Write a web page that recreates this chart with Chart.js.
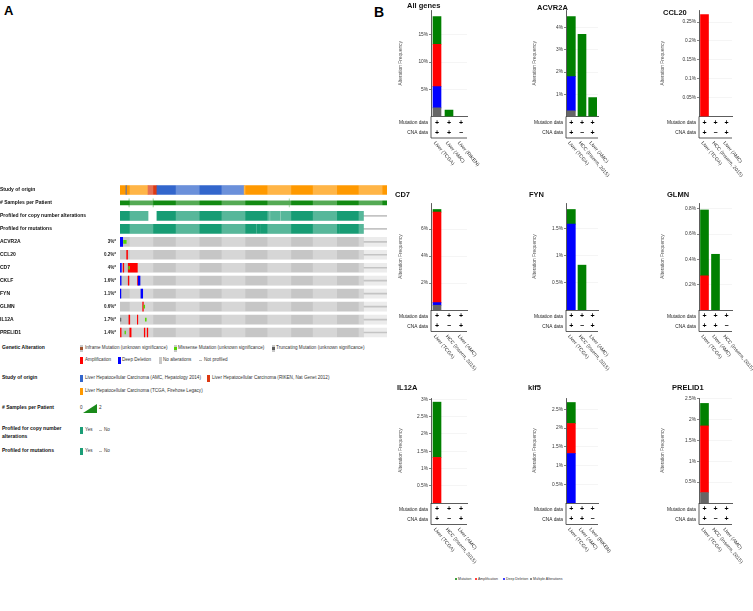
<!DOCTYPE html>
<html>
<head>
<meta charset="utf-8">
<script src="https://cdn.jsdelivr.net/npm/chart.js@4.4.0/dist/chart.umd.min.js"></script>
<style>
html,body{margin:0;padding:0;background:#fff;}
body{width:753px;height:611px;position:relative;overflow:hidden;font-family:"Liberation Sans",Arial,sans-serif;}
.t{position:absolute;white-space:nowrap;line-height:1;}
.lg{font-size:4.6px;color:#333;}
.hd{font-size:5px;font-weight:bold;color:#111;}
.ttl{font-size:7.5px;font-weight:bold;color:#111;}
.sw{position:absolute;}
canvas{position:absolute;}
</style>
</head>
<body>
<div class="t" style="left:4px;top:4px;font-size:13px;font-weight:bold;">A</div>
<div class="t" style="left:374px;top:5px;font-size:14px;font-weight:bold;">B</div>

<canvas id="onco" width="392" height="162" style="left:0;top:180px"></canvas>

<!-- legend of panel A -->
<div class="t hd" style="left:2px;top:345px">Genetic Alteration</div>
<div class="sw" style="left:80px;top:345px;width:3px;height:7px;background:#c8c8c8"></div>
<div class="sw" style="left:80px;top:347px;width:3px;height:3px;background:#a0522d"></div>
<div class="t lg" style="left:85px;top:346px">Inframe Mutation (unknown significance)</div>
<div class="sw" style="left:174px;top:345px;width:3px;height:7px;background:#c8c8c8"></div>
<div class="sw" style="left:174px;top:347px;width:3px;height:3px;background:#53d400"></div>
<div class="t lg" style="left:178px;top:346px">Missense Mutation (unknown significance)</div>
<div class="sw" style="left:272px;top:345px;width:3px;height:7px;background:#c8c8c8"></div>
<div class="sw" style="left:272px;top:347px;width:3px;height:3px;background:#5c5c5c"></div>
<div class="t lg" style="left:276px;top:346px">Truncating Mutation (unknown significance)</div>

<div class="sw" style="left:80px;top:357px;width:3px;height:7px;background:#ff0000"></div>
<div class="t lg" style="left:85px;top:358px">Amplification</div>
<div class="sw" style="left:118px;top:357px;width:3px;height:7px;background:#0000ff"></div>
<div class="t lg" style="left:122px;top:358px">Deep Deletion</div>
<div class="sw" style="left:159px;top:357px;width:3px;height:7px;background:#c8c8c8"></div>
<div class="t lg" style="left:163px;top:358px">No alterations</div>
<div class="sw" style="left:199px;top:360px;width:3px;height:1px;background:#bbb"></div>
<div class="t lg" style="left:204px;top:358px">Not profiled</div>

<div class="t hd" style="left:2px;top:375px">Study of origin</div>
<div class="sw" style="left:80px;top:375px;width:3px;height:7px;background:#3366cc"></div>
<div class="t lg" style="left:85px;top:376px">Liver Hepatocellular Carcinoma (AMC, Hepatology 2014)</div>
<div class="sw" style="left:207px;top:375px;width:3px;height:7px;background:#dc3912"></div>
<div class="t lg" style="left:212px;top:376px">Liver Hepatocellular Carcinoma (RIKEN, Nat Genet 2012)</div>
<div class="sw" style="left:80px;top:388px;width:3px;height:7px;background:#ff9900"></div>
<div class="t lg" style="left:85px;top:389px">Liver Hepatocellular Carcinoma (TCGA, Firehose Legacy)</div>

<div class="t hd" style="left:2px;top:405px"># Samples per Patient</div>
<div class="t lg" style="left:80px;top:406px">0</div>
<div class="sw" style="left:83px;top:404px;width:14px;height:9px;background:#1a8a1a;clip-path:polygon(0 100%,100% 0,100% 100%)"></div>
<div class="t lg" style="left:99px;top:406px">2</div>

<div class="t hd" style="left:2px;top:425px;line-height:1.5">Profiled for copy number<br>alterations</div>
<div class="sw" style="left:80px;top:427px;width:3px;height:7px;background:#1b9e77"></div>
<div class="t lg" style="left:85px;top:428px">Yes</div>
<div class="sw" style="left:99px;top:430px;width:3px;height:1px;background:#bbb"></div>
<div class="t lg" style="left:104px;top:428px">No</div>

<div class="t hd" style="left:2px;top:448px">Profiled for mutations</div>
<div class="sw" style="left:80px;top:448px;width:3px;height:7px;background:#1b9e77"></div>
<div class="t lg" style="left:85px;top:449px">Yes</div>
<div class="sw" style="left:99px;top:451px;width:3px;height:1px;background:#bbb"></div>
<div class="t lg" style="left:104px;top:449px">No</div>

<!-- legend of panel B -->
<div class="sw" style="left:455px;top:578px;width:2px;height:2px;border-radius:1px;background:#008000"></div>
<div class="t" style="left:458px;top:577.5px;font-size:3.5px;color:#333">Mutation</div>
<div class="sw" style="left:475px;top:578px;width:2px;height:2px;border-radius:1px;background:#ff0000"></div>
<div class="t" style="left:478px;top:577.5px;font-size:3.5px;color:#333">Amplification</div>
<div class="sw" style="left:503px;top:578px;width:2px;height:2px;border-radius:1px;background:#0000ff"></div>
<div class="t" style="left:506px;top:577.5px;font-size:3.5px;color:#333">Deep Deletion</div>
<div class="sw" style="left:530px;top:578px;width:2px;height:2px;border-radius:1px;background:#666"></div>
<div class="t" style="left:533px;top:577.5px;font-size:3.5px;color:#333">Multiple Alterations</div>

<script>
// ---------- panel A : oncoprint ----------
const trackLabels = ['Study of origin', '# Samples per Patient', 'Profiled for copy number alterations', 'Profiled for mutations'];
const geneRows = ['ACVR2A', 'CCL20', 'CD7', 'CKLF', 'FYN', 'GLMN', 'IL12A', 'PRELID1'];
const genePct = ['3%*', '0.2%*', '4%*', '1.6%*', '1.1%*', '0.6%*', '1.7%*', '1.4%*'];
const sampleCount = 600;    // columns in the oncoprint (approx.)
const profiledCount = 547;  // columns profiled in the gene rows
const studySegments = [[0, 13.5, 'TCGA'], [13.5, 15.5, 'AMC'], [15.5, 63, 'TCGA'], [63, 83, 'RIKEN'], [83, 279, 'AMC'], [279, 600, 'TCGA']];
const multiSampleCols = [20, 74, 380];
const cnaSegments = [[0, 63], [83, 336], [338, 359], [361, 547]];
const mutSegments = [[0, 306.5], [308, 314], [315.5, 491.5], [493, 547]];
const alterations = [
  ['ACVR2A', 0, 6, 'del'], ['ACVR2A', 8, 14, 'missense'],
  ['CCL20', 15, 17, 'amp'],
  ['CD7', 1, 3, 'del'], ['CD7', 7, 8.5, 'amp'], ['CD7', 18.5, 39, 'amp'], ['CD7', 19.5, 21.5, 'missense'],
  ['CKLF', 1, 2.5, 'del'], ['CKLF', 18.5, 20, 'amp'], ['CKLF', 39.5, 41, 'amp'], ['CKLF', 41, 45, 'del'],
  ['FYN', 0.5, 2, 'del'], ['FYN', 47, 51, 'del'],
  ['GLMN', 51, 52.5, 'amp'], ['GLMN', 53.5, 55.5, 'missense'],
  ['IL12A', 1, 2, 'truncating'], ['IL12A', 20, 22, 'amp'], ['IL12A', 39, 40, 'amp'], ['IL12A', 57, 59, 'missense'],
  ['PRELID1', 1, 2.5, 'amp'], ['PRELID1', 11, 12.5, 'missense'], ['PRELID1', 22, 25, 'amp'], ['PRELID1', 54.5, 56, 'amp'], ['PRELID1', 61, 62.5, 'amp']
];

// ---------- panel B : alteration frequency per study ----------
const panelTitles = ['All genes', 'ACVR2A', 'CCL20', 'CD7', 'FYN', 'GLMN', 'IL12A', 'klf5', 'PRELID1'];
const TC = 'Liver (TCGA)', AM = 'Liver (AMC)', RK = 'Liver (RIKEN)', IN = 'HCC (Inserm, 2015)';
const studyCats = [[TC, AM, RK], [TC, IN, AM], [TC, IN, AM], [TC, IN, AM], [TC, IN, AM], [TC, AM, IN], [TC, IN, AM], [TC, AM, RK], [TC, IN, AM]];
const multipleAlt = [[1.6, 0, 0], [0.25, 0, 0], [0, 0, 0], [0.35, 0, 0], [0, 0, 0], [0, 0, 0], [0, 0, 0], [0, 0, 0], [0.25, 0, 0]];
const deepDeletion = [[3.9, 0, 0], [1.55, 0, 0], [0, 0, 0], [0.2, 0, 0], [1.59, 0, 0], [0, 0, 0], [0, 0, 0], [1.32, 0, 0], [0, 0, 0]];
const amplification = [[7.8, 0, 0], [0, 0, 0], [0.27, 0, 0], [6.7, 0, 0], [0, 0, 0], [0.27, 0, 0], [1.32, 0, 0], [0.8, 0, 0], [1.6, 0, 0]];
const mutationFreq = [[5.1, 1.2, 0], [2.7, 3.7, 0.85], [0, 0, 0], [0.2, 0, 0], [0.27, 0.83, 0], [0.52, 0.44, 0], [1.6, 0, 0], [0.56, 0, 0], [0.54, 0, 0]];
const mutProfiled = [[1, 1, 1], [1, 1, 1], [1, 1, 1], [1, 1, 1], [1, 1, 1], [1, 1, 1], [1, 1, 1], [1, 1, 1], [1, 1, 1]];
const cnaProfiled = [[1, 1, 0], [1, 0, 1], [1, 0, 1], [1, 0, 1], [1, 0, 1], [1, 1, 0], [1, 0, 1], [1, 1, 0], [1, 0, 1]];
const yMax = [19.6, 4.8, 0.282, 7.93, 1.98, 0.845, 3.04, 2.8, 2.52];
const yStep = [5, 1, 0.05, 2, 0.5, 0.2, 0.5, 0.5, 0.5];

const FONT = '"Liberation Sans", Arial, sans-serif';
Chart.defaults.font.family = FONT;

// ---------- oncoprint ----------
const studyColors = {TCGA: '#ff9900', AMC: '#3366cc', RIKEN: '#dc3912'};
const altColors = {amp: '#ff0000', del: '#0000ff', missense: '#53d400', truncating: '#5c5c5c', inframe: '#a0522d'};
const lightBands = [[22.5, 74], [126, 178], [229, 281], [332, 384], [434, 487], [537, 589]];
const rowLabels = trackLabels.concat(geneRows);

function seg(row, a, b) { return {x: [a, b], y: row}; }

const overlay = [];
rowLabels.forEach(function(r, i) {
  const lim = i < 2 ? sampleCount : profiledCount;
  lightBands.forEach(function(b) {
    if (b[0] < lim) overlay.push(seg(r, b[0], Math.min(b[1], lim)));
  });
});
const cnaAlts = alterations.filter(a => a[3] == 'amp' || a[3] == 'del');
const mutAlts = alterations.filter(a => a[3] != 'amp' && a[3] != 'del');

const oncoDatasets = [
  {data: geneRows.map(g => seg(g, profiledCount, sampleCount)), backgroundColor: '#ececec', barThickness: 9, order: 20},
  {data: rowLabels.slice(2).map(g => seg(g, profiledCount, sampleCount)), backgroundColor: '#c4c4c4', barThickness: 1, order: 19},
  {data: geneRows.map(g => seg(g, 0, profiledCount)), backgroundColor: '#c6c6c6', barThickness: 9, order: 18},
  {data: studySegments.map(s => seg(trackLabels[0], s[0], s[1])), backgroundColor: studySegments.map(s => studyColors[s[2]]), barThickness: 9, order: 18},
  {data: multiSampleCols.map(v => seg(trackLabels[1], v, v + 1)), backgroundColor: '#8fd08f', barThickness: 8, order: 18},
  {data: [seg(trackLabels[1], 0, sampleCount)], backgroundColor: '#128a12', barThickness: 4, order: 17},
  {data: cnaSegments.map(s => seg(trackLabels[2], s[0], s[1])).concat(mutSegments.map(s => seg(trackLabels[3], s[0], s[1]))), backgroundColor: '#179c74', barThickness: 9, order: 18},
  {data: overlay, backgroundColor: 'rgba(255,255,255,0.28)', barThickness: 9, order: 10},
  {data: cnaAlts.map(a => seg(a[0], a[1], a[2])), backgroundColor: cnaAlts.map(a => altColors[a[3]]), barThickness: 9, order: 5},
  {data: mutAlts.map(a => seg(a[0], a[1], a[2])), backgroundColor: mutAlts.map(a => altColors[a[3]]), barThickness: 3, order: 1}
];

const pctPlugin = {
  id: 'pct',
  afterDraw(chart) {
    const ctx = chart.ctx, y = chart.scales.y;
    ctx.save();
    ctx.font = 'bold 4.5px ' + FONT;
    ctx.fillStyle = '#222';
    ctx.textAlign = 'right';
    ctx.textBaseline = 'middle';
    geneRows.forEach(function(g, i) {
      ctx.fillText(genePct[i], chart.chartArea.left - 4, y.getPixelForValue(trackLabels.length + i));
    });
    ctx.restore();
  }
};

new Chart(document.getElementById('onco'), {
  type: 'bar',
  data: {labels: rowLabels, datasets: oncoDatasets},
  options: {
    indexAxis: 'y',
    responsive: false,
    animation: false,
    events: [],
    layout: {padding: {top: 3.5, bottom: 3, left: 0, right: 5}},
    datasets: {bar: {grouped: false, borderWidth: 0}},
    plugins: {legend: {display: false}, tooltip: {enabled: false}},
    scales: {
      x: {type: 'linear', min: 0, max: sampleCount, display: false},
      y: {
        type: 'category',
        afterFit: s => { s.width = 120; },
        grid: {display: false},
        border: {display: false},
        ticks: {autoSkip: false, crossAlign: 'far', padding: 0, color: '#111', font: {size: 5, weight: 'bold'}}
      }
    }
  },
  plugins: [pctPlugin]
});

// ---------- frequency panels ----------
const colLeft = [398, 532, 660];
const colWidth = [100, 98, 93];
const axisX = [431, 566, 699];
const plotRight = [467, 598, 732];
const areaTop = [10, 203, 398];
const areaBottom = [124.5, 318, 511];
const titlePos = [[407, 1.5], [537, 3.5], [663, 8.5], [395, 191], [529, 191], [667, 191], [397, 384], [528, 384], [672, 384]];
const canvasH = 182;

function fmtPct(v) { return (+v.toFixed(3)) + '%'; }
function noZero(arr) { return arr.map(v => (v > 0 ? v : null)); }

const tablePlugin = {
  id: 'profileTable',
  afterDraw(chart) {
    const i = chart.options.plugins.profileTable.idx;
    const ctx = chart.ctx, a = chart.chartArea, x = chart.scales.x;
    const yb = a.bottom + 21.5;
    ctx.save();
    ctx.strokeStyle = '#333';
    ctx.lineWidth = 0.8;
    ctx.beginPath();
    ctx.moveTo(a.left, a.bottom);
    ctx.lineTo(a.left, yb);
    ctx.lineTo(a.right, yb);
    ctx.stroke();
    ctx.fillStyle = '#222';
    ctx.font = '4.8px ' + FONT;
    ctx.textAlign = 'right';
    ctx.textBaseline = 'middle';
    ctx.fillText('Mutation data', a.left - 3, a.bottom + 6.5);
    ctx.fillText('CNA data', a.left - 3, a.bottom + 16.5);
    studyCats[i].forEach(function(c, j) {
      const cx = x.getPixelForValue(j);
      ctx.fillStyle = '#000';
      ctx.font = 'bold 7px ' + FONT;
      ctx.textAlign = 'center';
      ctx.fillText(mutProfiled[i][j] ? '+' : '\u2212', cx, a.bottom + 6.5);
      ctx.fillText(cnaProfiled[i][j] ? '+' : '\u2212', cx, a.bottom + 16.5);
      ctx.save();
      ctx.translate(cx - 2.5, yb + 4);
      ctx.rotate(50 * Math.PI / 180);
      ctx.font = '5px ' + FONT;
      ctx.fillStyle = '#333';
      ctx.textAlign = 'left';
      ctx.fillText(c, 0, 0);
      ctx.restore();
    });
    ctx.restore();
  }
};

panelTitles.forEach(function(name, i) {
  const col = i % 3, row = Math.floor(i / 3);
  const left = colLeft[col], top = areaTop[row] - 10, W = colWidth[col];
  const cv = document.createElement('canvas');
  cv.width = W;
  cv.height = canvasH;
  cv.style.left = left + 'px';
  cv.style.top = top + 'px';
  document.body.appendChild(cv);

  const tt = document.createElement('div');
  tt.className = 't ttl';
  tt.style.left = titlePos[i][0] + 'px';
  tt.style.top = titlePos[i][1] + 'px';
  tt.textContent = name;
  document.body.appendChild(tt);

  const step = yStep[i];
  new Chart(cv, {
    type: 'bar',
    data: {
      labels: studyCats[i],
      datasets: [
        {label: 'Multiple Alterations', data: noZero(multipleAlt[i]), backgroundColor: '#666666'},
        {label: 'Deep Deletion', data: noZero(deepDeletion[i]), backgroundColor: '#0000ff'},
        {label: 'Amplification', data: noZero(amplification[i]), backgroundColor: '#ff0000'},
        {label: 'Mutation', data: noZero(mutationFreq[i]), backgroundColor: '#008000'}
      ]
    },
    options: {
      responsive: false,
      animation: false,
      events: [],
      layout: {padding: {top: 10, bottom: canvasH - 10 - (areaBottom[row] - areaTop[row]), left: 0, right: W - (plotRight[col] - left)}},
      datasets: {bar: {barThickness: 8, borderWidth: 0}},
      plugins: {legend: {display: false}, tooltip: {enabled: false}, profileTable: {idx: i}},
      scales: {
        x: {
          stacked: true,
          ticks: {display: false, padding: 0},
          grid: {display: false},
          border: {display: true, color: '#333', width: 0.8}
        },
        y: {
          stacked: true,
          min: 0,
          max: yMax[i],
          afterFit: s => { s.width = axisX[col] - left; },
          afterBuildTicks: s => {
            s.ticks = s.ticks.filter(t => t.value > 0 && Math.abs(t.value / step - Math.round(t.value / step)) < 1e-6);
          },
          ticks: {stepSize: step, includeBounds: false, color: '#333', padding: 1, font: {size: 4.8}, callback: v => fmtPct(v)},
          grid: {color: '#eeeeee', lineWidth: 0.6, tickLength: 2, tickColor: '#333'},
          border: {display: true, color: '#333', width: 0.8},
          title: {display: true, text: 'Alteration Frequency', color: '#555', font: {size: 4.8}, padding: 0}
        }
      }
    },
    plugins: [tablePlugin]
  });
});
</script>
</body>
</html>
